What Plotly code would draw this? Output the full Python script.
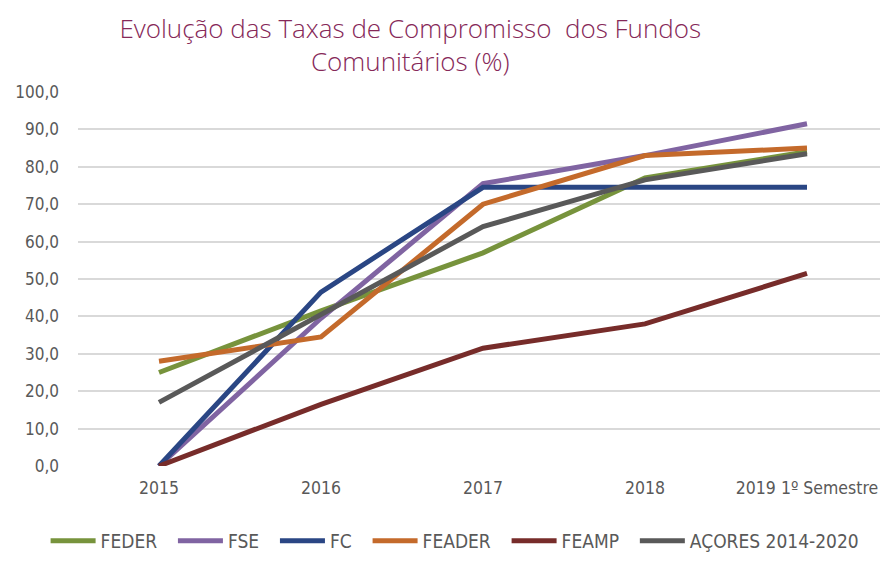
import plotly.graph_objects as go

categories = ["2015", "2016", "2017", "2018", "2019 1º Semestre"]
feder = [25.0, 41.5, 57.0, 77.0, 84.0]
fse = [0.0, 39.5, 75.5, 83.0, 91.5]
fc = [0.0, 46.5, 74.5, 74.5, 74.5]
feader = [28.0, 34.5, 70.0, 83.0, 85.0]
feamp = [0.0, 16.5, 31.5, 38.0, 51.5]
acores = [17.0, 40.5, 64.0, 76.5, 83.5]

series = [
    ("FEDER", feder, "#77933C"),
    ("FSE", fse, "#8064A2"),
    ("FC", fc, "#2A4684"),
    ("FEADER", feader, "#C46A2B"),
    ("FEAMP", feamp, "#772C2A"),
    ("AÇORES 2014-2020", acores, "#595959"),
]

fig = go.Figure()
for name, vals, color in series:
    fig.add_trace(go.Scatter(x=categories, y=vals, name=name + "\u00a0\u00a0", mode="lines",
                             line=dict(color=color, width=5)))

font_narrow = "DejaVu Sans Condensed, Liberation Sans Narrow, Arial Narrow, sans-serif"

fig.update_layout(
    width=888, height=570,
    margin=dict(l=70, r=8, t=84, b=112),
    paper_bgcolor="white", plot_bgcolor="white",
    separators=",.",
    title=dict(text="Evolução das Taxas de Compromisso  dos Fundos<br>Comunitários (%)",
               x=0.453, xanchor="center", y=0.948, yanchor="top",
               font=dict(family="Open Sans, Lato, sans-serif", size=26, color="#862858", weight=300)),
    xaxis=dict(type="category", showgrid=False, showline=False, zeroline=False,
               tickfont=dict(family=font_narrow, size=17.5, color="#595959"),
               range=[-0.5, 4.5], ticks="", ticklabelstandoff=9),
    yaxis=dict(range=[0, 100], dtick=10, tickformat=".1f", showgrid=True,
               gridcolor="#D9D9D9", gridwidth=1.5, zeroline=False, showline=False,
               tickfont=dict(family=font_narrow, size=17, color="#595959"),
               ticks="", ticklen=0, ticklabelstandoff=18),
    legend=dict(orientation="h", x=-0.04, xanchor="left", y=-0.2, yanchor="middle",
                font=dict(family=font_narrow, size=19, color="#595959"),
                itemwidth=45, tracegroupgap=0),
    showlegend=True,
)

fig.write_html("out.html")
